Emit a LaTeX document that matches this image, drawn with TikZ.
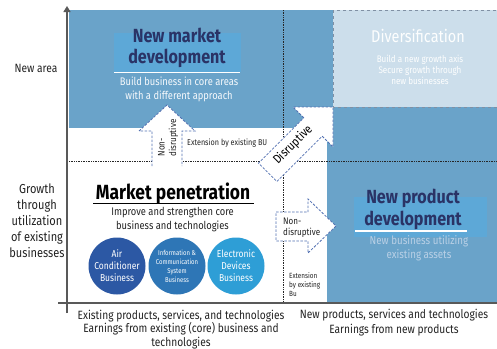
\documentclass[tikz,border=0pt]{standalone}
\usepackage{fontspec}
\setmainfont{Fira Sans}[FakeStretch=0.85]
\usetikzlibrary{arrows.meta}
\definecolor{field}{HTML}{6AA3C9}
\definecolor{hilite}{HTML}{5DA8D7}
\definecolor{divbox}{HTML}{CCDEEB}
\definecolor{divedge}{HTML}{8090A4}
\definecolor{navy}{HTML}{2A3366}
\definecolor{arrowedge}{HTML}{5270B2}
\definecolor{airc}{HTML}{2C58A4}
\definecolor{icsc}{HTML}{2E76B6}
\definecolor{edc}{HTML}{2E9ED6}
\definecolor{txt}{HTML}{222222}
\definecolor{npdsub}{HTML}{B9D0E6}
\begin{document}
\begin{tikzpicture}[x=1pt,y=-1pt,
  grid/.style={densely dotted, line width=0.7pt, black!85},
  axis/.style={line width=1.3pt, black!65},
  blockedge/.style={draw=arrowedge, line width=0.8pt, dash pattern=on 2.5pt off 1.5pt},
  title/.style={font=\fontsize{19}{21.5}\selectfont\bfseries, text=navy, align=center, inner sep=0pt},
  lbl/.style={font=\fontsize{12}{14.5}\selectfont, text=txt, align=center, inner sep=0pt},
  small/.style={font=\fontsize{8.5}{10}\selectfont, text=txt, align=left, inner sep=0pt},
  bubble/.style={circle, minimum size=57pt, inner sep=0pt, text=white, align=center,
    font=\fontsize{10}{12}\selectfont},
]
\useasboundingbox (0,0) rectangle (497,348);

% quadrant fields
\fill[field] (69,10) rectangle (497,128);
\fill[field] (327,10) rectangle (497,303);
\draw[divedge, dashed, line width=0.8pt, fill=divbox] (333,10) rectangle (497.6,107);

% dividing lines
\coordinate (vtop) at (283,10);
\coordinate (vbot) at (283,303);
\coordinate (hleft) at (69,161);
\coordinate (hright) at (497,161);
\draw[grid] (vtop) -- (vbot);
\draw[grid] (hleft) -- (hright);

% axes
\coordinate (xstart) at (58,303);
\coordinate (xend) at (497,303);
\coordinate (ystart) at (67,313);
\coordinate (yend) at (67,6);
\draw[axis] (xstart) -- (xend);
\draw[axis, -{Triangle[length=6pt,width=7pt]}] (ystart) -- (yend);

% upward block arrow (non-disruptive)
\fill[white] (152,166) -- (152,131) -- (139,131) -- (167,105) -- (195,131) -- (182,131) -- (182,166) -- cycle;
\draw[blockedge] (152,166) -- (152,131) -- (139,131) -- (167,105) -- (195,131) -- (182,131) -- (182,166);

% diagonal block arrow (disruptive)
\fill[white] (303.8,117.8) -- (293,107) -- (333,107) -- (333,147) -- (322.2,136.2) -- (276.9,181.5) -- (258.5,163.1) -- cycle;
\draw[blockedge] (303.8,117.8) -- (293,107) -- (333,107) -- (333,147) -- (322.2,136.2) -- (276.9,181.5) -- (258.5,163.1) -- cycle;

% rightward block arrow (non-disruptive)
\fill[white] (276,212) -- (308,212) -- (308,199) -- (336,226) -- (308,253) -- (308,241) -- (276,241) -- cycle;
\draw[blockedge] (276,212) -- (308,212) -- (308,199) -- (336,226) -- (308,253) -- (308,241) -- (276,241) -- cycle;

% new market development (multi-line nodes sit on their last baseline)
\fill[hilite] (114,33) rectangle (241,72);
\node[title, anchor=base] (nmd) at (177,63.5) {New market\\development};
\draw[white, line width=1.2pt] (114,72.5) -- (240,72.5);
\node[lbl, anchor=base, text=white!94!field, font=\fontsize{11}{14}\selectfont] (nmdsub) at (179,99)
  {Build business in core areas\\with a different approach};

% diversification
\node[anchor=base, inner sep=0pt, text=white!96!divbox, font=\fontsize{17}{20}\selectfont] (div) at (418,42) {Diversification};
\node[anchor=base, inner sep=0pt, align=center, text=white!96!divbox, font=\fontsize{9.5}{10.8}\selectfont] (divsub) at (420,84)
  {Build a new growth axis\\Secure growth through\\new businesses};

% market penetration
\node[anchor=base, inner sep=0pt, text=black, font=\fontsize{20.5}{22}\selectfont\bfseries] (mp) at (173,199) {Market penetration};
\draw[black, line width=1.8pt] (93,203.5) -- (254,203.5);
\node[lbl, anchor=base, font=\fontsize{11}{13.5}\selectfont] (mpsub) at (172.5,229)
  {Improve and strengthen core\\business and technologies};

% businesses
\node[bubble, fill=airc] (air) at (117,266) {Air\\Conditioner\\Business};
\node[bubble, fill=icsc, font=\fontsize{7}{9}\selectfont] (ics) at (177,266) {Information \&\\Communication\\System\\Business};
\node[bubble, fill=edc] (ed) at (236,266) {Electronic\\Devices\\Business};

% new product development
\fill[hilite] (354,197) rectangle (487,237);
\node[title, anchor=base] (npd) at (413,225) {New product\\development};
\draw[white, line width=1.2pt] (355,231) -- (467,231);
\node[lbl, anchor=base, text=npdsub, font=\fontsize{11.5}{14}\selectfont] (npdsub) at (419,258)
  {New business utilizing\\existing assets};

% arrow labels
\node[small, rotate=90, anchor=center, font=\fontsize{9.5}{11.5}\selectfont] (ndup) at (168,138) {Non-\\disruptive};
\node[small, anchor=base west] (extbu) at (187,145) {Extension by existing BU};
\node[anchor=center, rotate=45, inner sep=0pt, text=black, font=\fontsize{12.5}{14}\selectfont] (dis) at (293,145) {Disruptive};
\node[small, anchor=base west, font=\fontsize{9.5}{11}\selectfont] (ndright) at (283,235) {Non-\\disruptive};
\node[small, anchor=base west, font=\fontsize{7.5}{9}\selectfont] (extbu2) at (289,296) {Extension\\by existing\\Bu};

% axis labels
\node[lbl] (newarea) at (36,68) {New area};
\node[lbl, anchor=base, font=\fontsize{13}{16}\selectfont] (growth) at (37,257)
  {Growth\\through\\utilization\\of existing\\businesses};
\node[lbl, anchor=base, font=\fontsize{12}{13.5}\selectfont] (xleft) at (181,346)
  {Existing products, services, and technologies\\Earnings from existing (core) business and\\technologies};
\node[lbl, anchor=base, font=\fontsize{12}{15}\selectfont] (xright) at (394,333)
  {New products, services and technologies\\Earnings from new products};
\end{tikzpicture}
\end{document}
